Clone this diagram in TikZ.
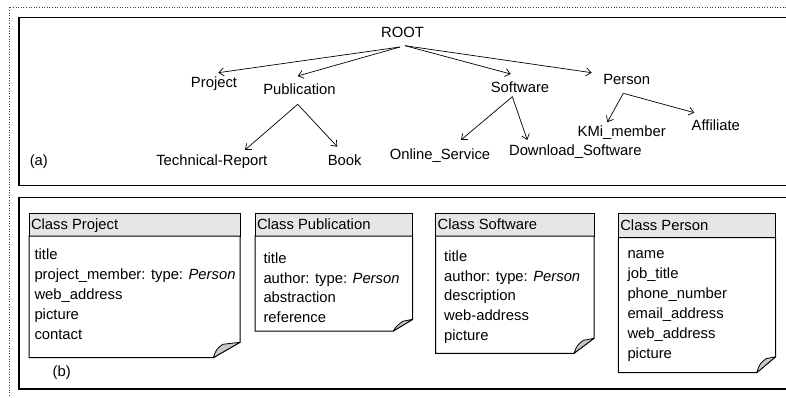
\documentclass[tikz,border=0pt]{standalone}
\usepackage{fontspec}
\setmainfont{Liberation Sans}
\usetikzlibrary{arrows.meta,calc}
\definecolor{hdrgray}{HTML}{E6E6E6}
\definecolor{foldgray}{HTML}{C8C8C8}
\newcommand{\mknote}[9]{%
  \filldraw[fill=hdrgray,line width=1pt] (#2,#3) rectangle (#5,#4);
  \filldraw[fill=white,line width=1pt] (#2,#4) -- (#5,#4) -- (#5,#8) -- (#7,#6) -- (#2,#6) -- cycle;
  \filldraw[fill=foldgray,line width=0.8pt,line join=round] (#7,#6) .. controls ({#7+3},{#8+7}) .. ({#7+9.4},{#8+2}) -- (#5,#8) -- cycle;
  \node[txt] (#1) at ({#2+1.8},{(#3+#4)/2+5.3}) {#9};
}
\begin{document}
\begin{tikzpicture}[x=1pt,y=-1pt,
  font=\fontsize{14.8}{17}\selectfont,
  txt/.style={anchor=base west,inner sep=0pt},
  lbl/.style={inner sep=0pt,text height=11pt,text depth=3pt},
  arr/.style={-{Straight Barb[length=5pt,width=8pt]},line width=0.7pt}]
\useasboundingbox (0,0) rectangle (786,398);
\clip (0,0) rectangle (786,398);
% frames
\draw[line width=1.2pt,black!75,dash pattern=on 1pt off 1.6pt] (9.5,7.5) rectangle (800,410);
\draw[line width=1.8pt] (19,17.5) rectangle (800,185.5);
\draw[line width=1.3pt] (19,197.7) rectangle (800,389);
% tree (a)
\node[lbl] (root) at (402.5,33.3) {ROOT};
\node[lbl] (project) at (214,84) {Project};
\node[lbl] (publication) at (299.5,90.7) {Publication};
\node[lbl] (software) at (520,88.3) {Software};
\node[lbl] (person) at (626.7,81) {Person};
\node[lbl] (techrep) at (211.8,161) {Technical-Report};
\node[lbl] (book) at (344.7,161) {Book};
\node[lbl] (online) at (440,156) {Online\_Service};
\node[lbl] (download) at (575.3,151.7) {Download\_Software};
\node[lbl] (kmi) at (621.7,132.7) {KMi\_member};
\node[lbl] (affiliate) at (715.8,126.7) {Affiliate};
\node[lbl] (labela) at (38.8,161) {(a)};
\draw[arr] ($(root)+(-2.5,13.7)$) -- ($(project)+(4.3,-11.3)$);
\draw[arr] ($(root)+(-2.5,13.7)$) -- ($(publication)+(-1.8,-14.7)$);
\draw[arr] ($(root)+(2.5,12.4)$) -- ($(software)+(-9.3,-14.3)$);
\draw[arr] ($(root)+(2.5,12.4)$) -- ($(person)+(-35,-8.3)$);
\draw[arr] ($(publication)+(-1.8,13.6)$) -- ($(techrep)+(33.2,-11)$);
\draw[arr] ($(publication)+(-1.8,13.6)$) -- ($(book)+(-7.4,-14.3)$);
\draw[arr] ($(software)+(-7.7,8.4)$) -- ($(online)+(21,-16)$);
\draw[arr] ($(software)+(-7.7,8.4)$) -- ($(download)+(-48,-11.7)$);
\draw[arr] ($(person)+(-3.4,12.3)$) -- ($(kmi)+(-14.4,-10.4)$);
\draw[arr] ($(person)+(-3.4,12.3)$) -- ($(affiliate)+(-21.5,-14)$);
% notes (b)
\mknote{hproject}{29}{213.3}{236}{240}{357.7}{213.3}{342.3}{Class Project}
\foreach \t [count=\i] in {title,{project\_member: type: \textit{Person}},web\_address,picture,contact}
  \node[txt] (prj\i) at (34.3,{259.3+20*(\i-1)}) {\t};
\mknote{hpublication}{255}{213.3}{236}{412.7}{331}{393.3}{319.3}{Class Publication}
\foreach \t [count=\i] in {title,{author: type: \textit{Person}},abstraction,reference}
  \node[txt] (pub\i) at (263.3,{263.5+19.5*(\i-1)}) {\t};
\mknote{hsoftware}{435.7}{213.3}{236}{594}{353.3}{574}{338.3}{Class Software}
\foreach \t [count=\i] in {title,{author: type: \textit{Person}},description,web-address,picture}
  \node[txt] (sw\i) at (444,{261.3+19.7*(\i-1)}) {\t};
\mknote{hperson}{618.3}{213.3}{237.7}{775.7}{372.7}{756.7}{356.7}{Class Person}
\foreach \t [count=\i] in {name,job\_title,phone\_number,email\_address,web\_address,picture}
  \node[txt] (per\i) at (627.3,{258+20*(\i-1)}) {\t};
\node[lbl] (labelb) at (61.7,372.5) {(b)};
\end{tikzpicture}
\end{document}
